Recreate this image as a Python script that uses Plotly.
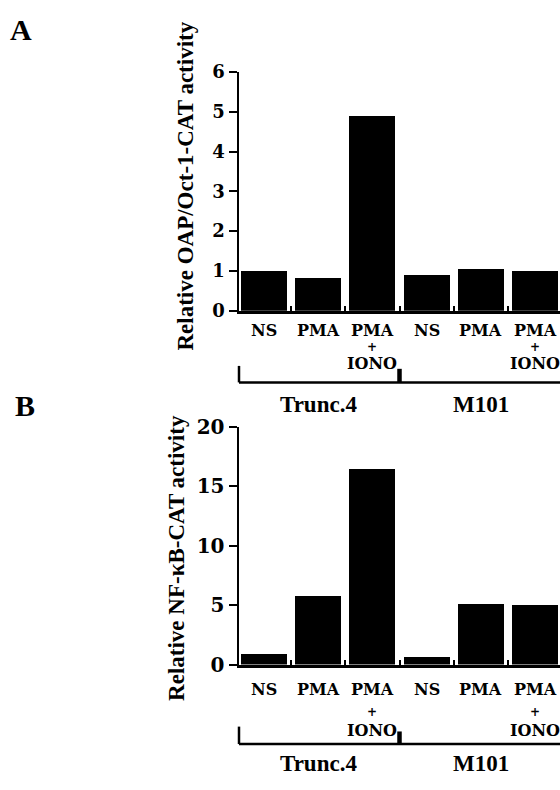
import plotly.graph_objects as go

# ---- data ----
positions = [0, 1, 2, 3, 4, 5]
labels = ["NS", "PMA", "PMA + IONO", "NS", "PMA", "PMA + IONO"]
values_a = [1.0, 0.83, 4.9, 0.9, 1.05, 1.0]
values_b = [0.9, 5.8, 16.5, 0.6, 5.1, 5.05]
groups = ["Trunc.4", "M101"]
group_centers = [1, 4]
ticks_a = [0, 1, 2, 3, 4, 5, 6]
ticks_b = [0, 5, 10, 15, 20]
title_a = "Relative OAP/Oct-1-CAT activity"
title_b = "Relative NF-κB-CAT activity"

W, H = 560, 790
SERIF = "Liberation Serif, Times New Roman, serif"
WIDE = "DejaVu Serif, serif"


def py(px):
    return 1 - px / H


def pxx(px):
    return px / W


fig = go.Figure()
fig.add_trace(go.Bar(x=positions, y=values_a, xaxis="x", yaxis="y",
                     marker=dict(color="black", line=dict(width=0)), width=0.85))
fig.add_trace(go.Bar(x=positions, y=values_b, xaxis="x2", yaxis="y2",
                     marker=dict(color="black", line=dict(width=0)), width=0.85))

xdom = [pxx(239), 1.0]
xr = [-0.461, 5.461]
boundaries = [p + 0.5 for p in positions[:-1]]

common_x = dict(range=xr, domain=xdom, showgrid=False, zeroline=False,
                showline=True, linecolor="black", linewidth=3,
                tickmode="array", tickvals=boundaries, ticks="inside",
                ticklen=5, tickwidth=2, tickcolor="black", showticklabels=False,
                fixedrange=True)
common_y = dict(showgrid=False, zeroline=False, showline=True, linecolor="black",
                linewidth=2.5, ticks="outside", ticklen=8, tickwidth=2,
                tickcolor="black", tickmode="array", fixedrange=True)

fig.update_layout(
    width=W, height=H, margin=dict(l=0, r=0, t=0, b=0),
    paper_bgcolor="white", plot_bgcolor="white", showlegend=False,
    bargap=0, hovermode=False,
    xaxis=dict(anchor="y", **common_x),
    xaxis2=dict(anchor="y2", **common_x),
    yaxis=dict(anchor="x", domain=[py(308), py(62)], range=[0, 6],
               tickvals=ticks_a,
               tickfont=dict(family=WIDE, size=18, color="black", weight="bold"),
               **common_y),
    yaxis2=dict(anchor="x2", domain=[py(673), py(428)], range=[0, 20],
                tickvals=ticks_b,
                tickfont=dict(family=WIDE, size=20, color="black", weight="bold"),
                **common_y),
)

ann = []
shapes = []
panels = [
    dict(xa="x", title=title_a, row=(328, 345, 363), grp=405,
         brk=(365, 382, 368), tpos=(186, 180), letter="A", lpos=(21, 18)),
    dict(xa="x2", title=title_b, row=(699, 722, 741), grp=775,
         brk=(737, 755, 742), tpos=(177, 563), letter="B", lpos=(25, 406)),
]
for p in panels:
    for pos, lab in zip(positions, labels):
        parts = lab.split(" + ")
        ann.append(dict(x=pos, y=py(p["row"][0]), xref=p["xa"], yref="paper",
                        text=parts[0], showarrow=False, xanchor="center",
                        yanchor="middle",
                        font=dict(family=WIDE, size=16, color="black", weight="bold")))
        if len(parts) > 1:
            ann.append(dict(x=pos, y=py(p["row"][1]), xref=p["xa"], yref="paper",
                            text="+", showarrow=False, xanchor="center",
                            yanchor="middle",
                            font=dict(family=WIDE, size=12, color="black",
                                      weight="bold")))
            ann.append(dict(x=pos, y=py(p["row"][2]), xref=p["xa"], yref="paper",
                            text=parts[1], showarrow=False, xanchor="center",
                            yanchor="middle",
                            font=dict(family=WIDE, size=16, color="black",
                                      weight="bold")))
    for g, c in zip(groups, group_centers):
        ann.append(dict(x=c, y=py(p["grp"]), xref=p["xa"], yref="paper",
                        text=g, showarrow=False, xanchor="center", yanchor="middle",
                        font=dict(family=SERIF, size=23, color="black", weight="bold")))
    ann.append(dict(x=pxx(p["tpos"][0]), y=py(p["tpos"][1]), xref="paper",
                    yref="paper", text=p["title"], textangle=-90, showarrow=False,
                    xanchor="center", yanchor="middle",
                    font=dict(family=SERIF, size=23, color="black", weight="bold")))
    ann.append(dict(x=pxx(p["lpos"][0]), y=py(p["lpos"][1]), xref="paper",
                    yref="paper", text=p["letter"], showarrow=False,
                    xanchor="center", yanchor="middle",
                    font=dict(family=SERIF, size=30, color="black", weight="bold")))
    top, base, stub = p["brk"]
    dref = p["xa"] + " domain"
    shapes.append(dict(type="line", xref=dref, yref="paper", x0=0, x1=0,
                       y0=py(top), y1=py(base), line=dict(color="black", width=2.5)))
    shapes.append(dict(type="line", xref=dref, yref="paper", x0=0, x1=1,
                       y0=py(base), y1=py(base), line=dict(color="black", width=2.5)))
    shapes.append(dict(type="line", xref=p["xa"], yref="paper", x0=2.5, x1=2.5,
                       y0=py(stub), y1=py(base), line=dict(color="black", width=4.5)))

fig.update_layout(annotations=ann, shapes=shapes)
fig.write_html(
    "out.html",
    config={"displayModeBar": False, "staticPlot": True},
    post_script="document.body.style.margin='0';document.body.style.overflow='hidden';",
)
